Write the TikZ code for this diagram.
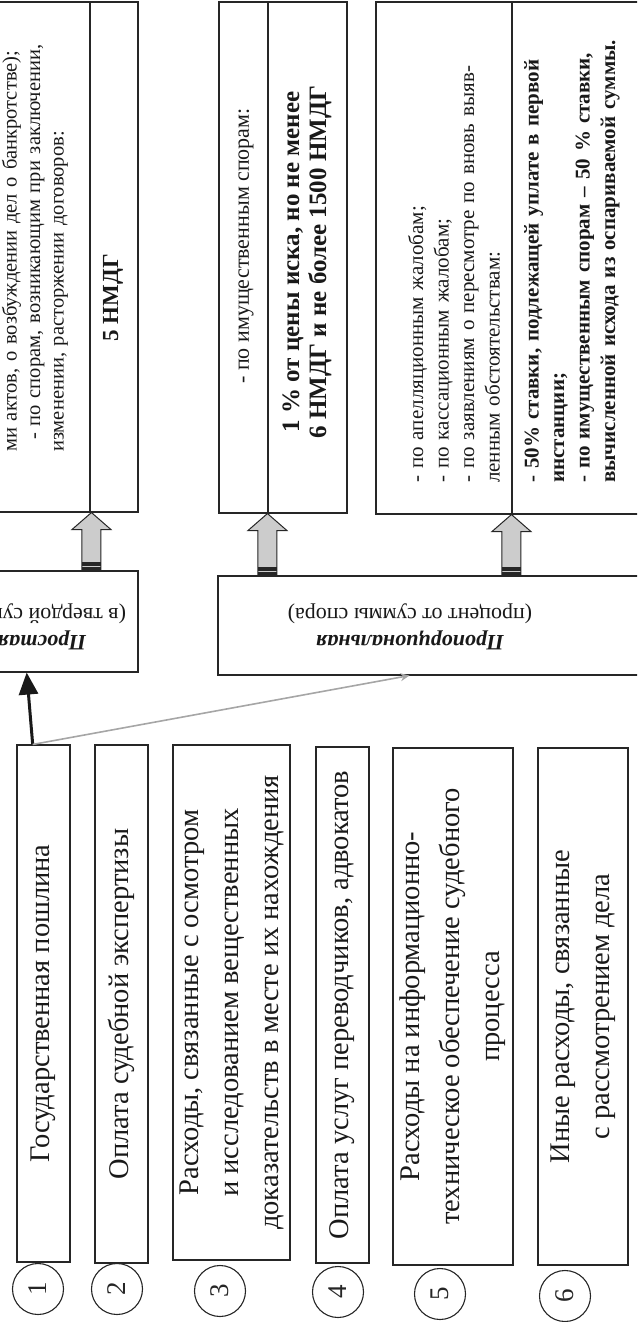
\documentclass[tikz,border=0pt]{standalone}
\usepackage{fontspec}
\setmainfont{Liberation Serif}
\usetikzlibrary{arrows.meta,calc}
\newcommand{\blockarrow}[2]{%
  \draw[barrow] (#1) -- ($(#1)+(-19.5,-17)$) -- ($(#1)+(-9.5,-17)$) -- ($(#1|-#2)+(-9.5,0)$)
     -- ($(#1|-#2)+(9.5,0)$) -- ($(#1)+(9.5,-17)$) -- ($(#1)+(19.5,-17)$) -- cycle;
  \fill[black!85] ($(#1|-#2)+(-9.5,8)$) rectangle ($(#1|-#2)+(9.5,4.5)$);
  \fill[black!85] ($(#1|-#2)+(-9.5,3)$) rectangle ($(#1|-#2)+(9.5,0)$);
}
\begin{document}
\begin{tikzpicture}[x=1pt,y=1pt,
  cell/.style={draw=black!85, line width=1.1pt, rectangle, inner sep=0pt},
  bot/.style={cell, rotate=90, align=center, text=black!90, font=\fontsize{28.5}{40}\selectfont},
  num/.style={draw=black!85, line width=1.1pt, circle, minimum size=51pt, inner sep=0pt, rotate=90, text=black!85, font=\fontsize{27}{30}\selectfont},
  ttxt/.style={rotate=90, inner sep=0pt, align=left, text=black!90, font=\fontsize{21}{25.5}\selectfont},
  tbold/.style={rotate=90, inner sep=0pt, align=left, text=black!90, font=\bfseries\fontsize{21}{25.5}\selectfont},
  cat/.style={rotate=180, inner sep=0pt, align=center, text=black!90, font=\fontsize{22}{27}\selectfont},
  barrow/.style={draw=black!85, line width=1pt, fill=gray!40, line join=miter},
]
\useasboundingbox (0,0) rectangle (637,-1322);
\clip (0,0) rectangle (637,-1322);

% upper cells
\node[cell, minimum width=150pt, minimum height=510pt] (aL) at (15,-257) {};
\node[cell, minimum width=48pt, minimum height=510pt] (aR) at (114,-257) {};
\node[cell, minimum width=49pt, minimum height=511pt] (bL) at (243.5,-257.5) {};
\node[cell, minimum width=79pt, minimum height=511pt] (bR) at (307.5,-257.5) {};
\node[cell, minimum width=136pt, minimum height=512pt] (cL) at (444,-258) {};
\node[cell, minimum width=148pt, minimum height=512pt] (cR) at (586,-258) {};

% upper texts
\node[ttxt, anchor=west, text width=440pt, font=\fontsize{20.5}{23.5}\selectfont] (ta) at (35,-452)
  {ми актов, о возбуждении дел о банкротстве);\\
   \makebox[440pt][s]{\hspace*{12pt}- по спорам, возникающим при заключении,}\\
   изменении, расторжении договоров:};
\node[rotate=90, inner sep=0pt, text=black!90, font=\bfseries\fontsize{23}{26}\selectfont] (t5) at (113,-298) {5 НМДГ};
\node[ttxt, anchor=east, font=\fontsize{22}{25.5}\selectfont] (tb1) at (246,-108) {- по имущественным спорам:};
\node[rotate=90, inner sep=0pt, align=center, text=black!90, font=\bfseries\fontsize{25}{27}\selectfont] (tb2) at (307,-262)
  {1 \% от цены иска, но не менее\\ 6 НМДГ и не более 1500 НМДГ};
\node[ttxt, anchor=west, text width=453pt] (tc1) at (454,-483)
  {- по апелляционным жалобам;\\
   - по кассационным жалобам;\\
   \makebox[453pt][s]{- по заявлениям о пересмотре по вновь выяв-}\\
   ленным обстоятельствам:};
\node[tbold, anchor=west, text width=453pt] (tc2) at (572,-483)
  {\makebox[453pt][s]{- 50\% ставки, подлежащей уплате в первой}\\
   инстанции;\\
   \makebox[453pt][s]{- по имущественным спорам – 50 \% ставки,}\\
   \makebox[453pt][s]{вычисленной исхода из оспариваемой суммы.}};

% category boxes
\node[cell, minimum width=198pt, minimum height=101pt] (pr) at (39,-621.5) {};
\node[cell, minimum width=442pt, minimum height=99pt] (pp) at (439,-625.5) {};
\node[cat] (tpr) at (42,-627) {\textbf{\textit{Простая}}\\(в твердой сумме)};
\node[cat] (tpp) at (410,-627) {\textbf{\textit{Пропорциональная}}\\(процент от суммы спора)};

% block arrows
\coordinate (tA) at ($(aR.south west)+(2,0)$);
\coordinate (tB) at (bR.south west);
\coordinate (tC) at (cR.south west);
\blockarrow{tA}{pr.north}
\blockarrow{tB}{pp.north}
\blockarrow{tC}{pp.north}

% bottom boxes
\node[bot, minimum width=517pt, minimum height=53pt] (b1) at (43.5,-1003.5) {Государственная пошлина};
\node[bot, minimum width=518pt, minimum height=53pt] (b2) at (121.5,-1004) {Оплата судебной экспертизы};
\node[bot, minimum width=515pt, minimum height=117pt] (b3) at (231.5,-1002.5)
  {Расходы, связанные с осмотром\\ и исследованием вещественных\\ доказательств в месте их нахождения};
\node[bot, minimum width=516pt, minimum height=53pt] (b4) at (342.5,-1005) {Оплата услуг переводчиков, адвокатов};
\node[bot, minimum width=517pt, minimum height=120pt] (b5) at (453,-1006.5)
  {Расходы на информационно-\\ техническое обеспечение судебного\\ процесса};
\node[bot, minimum width=517pt, minimum height=90pt] (b6) at (583,-1006.5)
  {Иные расходы, связанные\\ с рассмотрением дела};

% number circles
\node[num] (c1) at (38,-1289) {1};
\node[num] (c2) at (117,-1289) {2};
\node[num] (c3) at (220,-1291) {3};
\node[num] (c4) at (338,-1292) {4};
\node[num] (c5) at (440,-1294) {5};
\node[num] (c6) at (565,-1296) {6};

% connectors
\coordinate (s1) at ($(b1.north east)!0.3!(b1.south east)$);
\coordinate (e1) at ($(s1|-pr.south)+(-6,0)$);
\coordinate (e2) at ($(pp.south west)+(192,0)$);
\draw[black!90, line width=3pt, -{Triangle[length=22pt,width=19pt]}] (s1) -- (e1);
\draw[gray!70, line width=1.6pt, -{Stealth[length=9pt,width=8pt]}] (s1) -- (e2);
\end{tikzpicture}
\end{document}
